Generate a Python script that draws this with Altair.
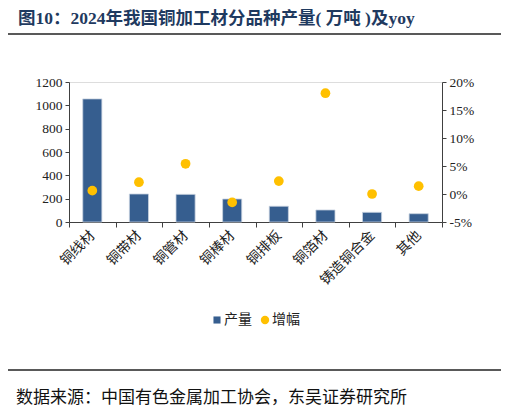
import altair as alt
import pandas as pd

categories = ["铜线材", "铜带材", "铜管材", "铜棒材", "铜排板", "铜箔材", "铸造铜合金", "其他"]
output_wt = [1055, 240, 237, 197, 135, 103, 83, 71]
yoy_pct = [0.6, 2.1, 5.4, -1.5, 2.3, 18.0, 0.0, 1.4]
left_ticks = [0, 200, 400, 600, 800, 1000, 1200]
right_ticks = [-0.05, 0.0, 0.05, 0.10, 0.15, 0.20]
legend_labels = ["产量", "增幅"]
title_text = "图10：2024年我国铜加工材分品种产量( 万吨 )及yoy"
source_text = "数据来源：中国有色金属加工协会，东吴证券研究所"

BAR = "#365E8F"
DOT = "#FFC000"
SERIF = "Liberation Serif"
CJK = "Noto Sans CJK SC"

df = pd.DataFrame({
    "cat": categories,
    "out": output_wt,
    "yoy": [v / 100 for v in yoy_pct],
})

W, H = 373, 140

xenc = alt.X(
    "cat:N", sort=categories, title=None,
    scale=alt.Scale(paddingInner=0, paddingOuter=0),
    axis=alt.Axis(labelAngle=-45, labelAlign="right", labelBaseline="middle",
                  labelFont=CJK, labelFontSize=14, labelColor="#222",
                  tickBand="extent", tickSize=5, tickColor="#404040",
                  domainColor="#404040", labelPadding=6, orient="bottom"),
)

bars = alt.Chart(df).mark_bar(
    width=alt.RelativeBandSize(0.41), color=BAR, stroke="#c8d2e0", strokeWidth=0.8
).encode(
    x=xenc,
    y=alt.Y("out:Q", title=None,
            scale=alt.Scale(domain=[0, 1200], nice=False),
            axis=alt.Axis(orient="left", values=left_ticks, format="d", grid=False,
                          labelFont=SERIF, labelFontSize=13.5, labelColor="#222",
                          tickSize=4, tickColor="#404040", domainColor="#404040",
                          labelPadding=3)),
)

pts = alt.Chart(df).mark_circle(size=95, color=DOT, opacity=1).encode(
    x=alt.X("cat:N", sort=categories),
    y=alt.Y("yoy:Q", title=None,
            scale=alt.Scale(domain=[-0.05, 0.20], nice=False),
            axis=alt.Axis(orient="right", values=right_ticks, format=".0%",
                          labelExpr="replace(datum.label, '−', '-')", grid=False,
                          labelFont=SERIF, labelFontSize=13.5, labelColor="#222",
                          tickSize=4, tickColor="#404040", domainColor="#404040",
                          labelPadding=3)),
)

one = pd.DataFrame({"a": [1]})

title = alt.Chart(one).mark_text(
    text=title_text, align="left", baseline="middle", fontSize=17.5,
    fontWeight="bold", font=f"{SERIF}, {CJK}", color="#1F3A60"
).encode(x=alt.value(-51), y=alt.value(-63))

top_rule = alt.Chart(one).mark_rule(color="#222", strokeWidth=1.6).encode(
    x=alt.value(-64), x2=alt.value(434), y=alt.value(-48))
bot_rule = alt.Chart(one).mark_rule(color="#222", strokeWidth=1.6).encode(
    x=alt.value(-64), x2=alt.value(434), y=alt.value(288))

source = alt.Chart(one).mark_text(
    text=source_text, align="left", baseline="middle", fontSize=17,
    font=CJK, color="#111"
).encode(x=alt.value(-53), y=alt.value(316))

leg_sq = alt.Chart(one).mark_square(size=50, color=BAR, opacity=1).encode(
    x=alt.value(148), y=alt.value(238))
leg_sq_t = alt.Chart(pd.DataFrame({"t": [legend_labels[0]]})).mark_text(
    align="left", baseline="middle", fontSize=14, font=CJK, color="#222"
).encode(x=alt.value(155), y=alt.value(238), text="t:N")
leg_dot = alt.Chart(one).mark_circle(size=70, color=DOT, opacity=1).encode(
    x=alt.value(196), y=alt.value(238))
leg_dot_t = alt.Chart(pd.DataFrame({"t": [legend_labels[1]]})).mark_text(
    align="left", baseline="middle", fontSize=14, font=CJK, color="#222"
).encode(x=alt.value(203), y=alt.value(238), text="t:N")

chart = alt.layer(
    bars, pts, title, top_rule, bot_rule, source, leg_sq, leg_sq_t, leg_dot, leg_dot_t
).resolve_scale(y="independent").properties(
    width=W, height=H,
    autosize=alt.AutoSizeParams(type="none"),
    padding={"left": 61, "top": 74, "right": 59, "bottom": 186},
).configure_view(stroke=None).configure(background="white")

chart.save("out.html", embed_options={"renderer": "svg", "actions": False})
